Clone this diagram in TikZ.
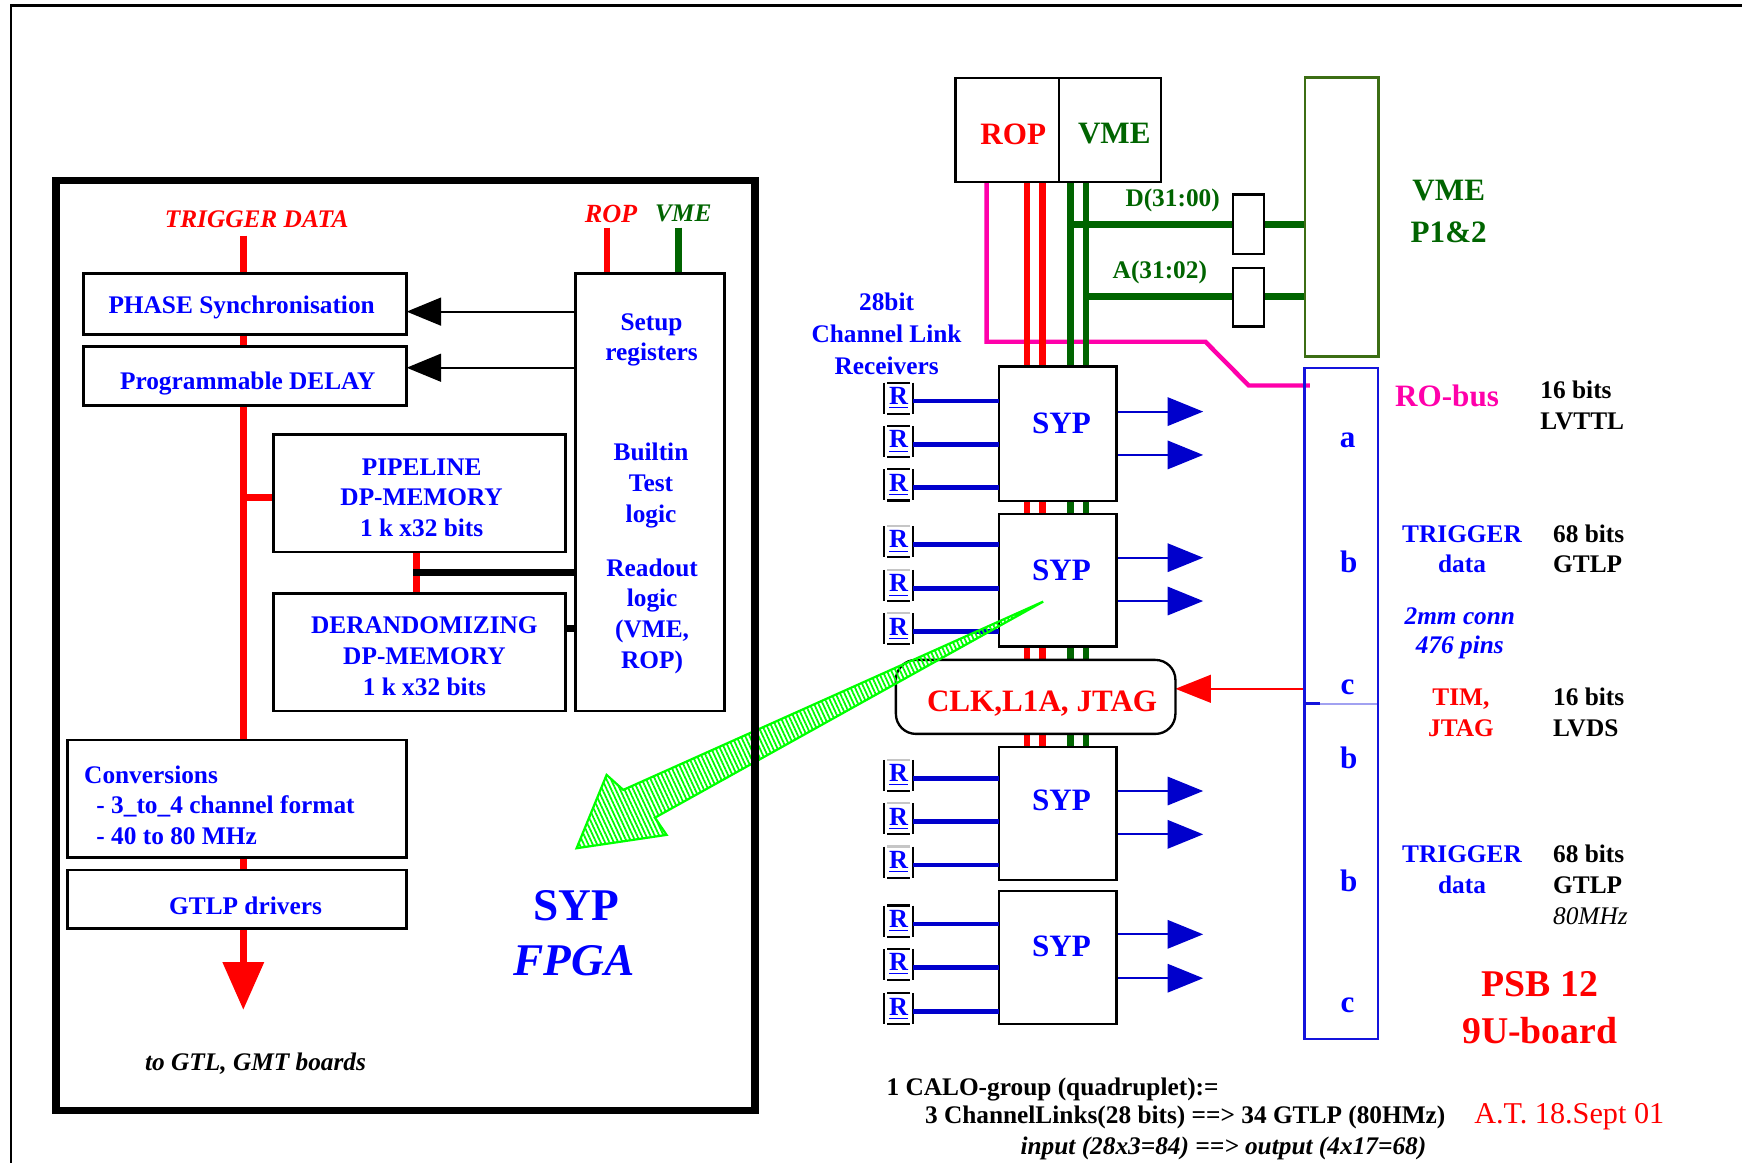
\documentclass[tikz,border=0pt]{standalone}
\usepackage{fontspec}
\setmainfont{Liberation Serif}
\usetikzlibrary{arrows.meta,patterns.meta,calc}
\definecolor{tblue}{RGB}{0,0,255}
\definecolor{lblue}{RGB}{0,0,204}
\definecolor{cblue}{RGB}{20,20,220}
\definecolor{tred}{RGB}{255,0,0}
\definecolor{dgreen}{RGB}{0,100,0}
\definecolor{olivetwo}{RGB}{60,110,20}
\definecolor{pinkm}{RGB}{255,0,170}
\definecolor{lgreen}{RGB}{0,255,0}
\pgfdeclarelayer{bg}
\pgfsetlayers{bg,main}
\newcommand\rrow[4]{%
  \node[rtext] (#1) at (808.75,#2-2.5) {\underline{R}};
  \draw[line width=1pt] (#1.north west) -- (#1.south west);
  \draw[line width=1pt] (#1.north east) -- (#1.south east);
  \draw[line width=1pt,#3] ($(#1.north west)+(2.8,0)$) -- ($(#1.north east)+(-2.8,0)$);
  \draw[line width=1pt] ($(#1.south west)+(2.8,0)$) -- ($(#1.south east)+(-2.8,0)$);
  \draw[rlink] (#1.east |- 0,#2) -- (#4.west |- 0,#2);
}
\newcommand\oarrow[3]{%
  \coordinate (#3) at (1083,#2);
  \draw[oarr] (#1.east |- 0,#2) -- (#3);
}
\begin{document}
\begin{tikzpicture}[x=0.5pt,y=-0.5pt,
  every node/.style={inner sep=0pt,outer sep=0pt},
  bx/.style={draw=black,line width=1.2pt,fill=white},
  sbx/.style={draw=black,line width=1.05pt,fill=white},
  ft/.style 2 args={font=\fontsize{#1pt}{#2pt}\selectfont\bfseries,yshift=-1pt},
  fti/.style 2 args={font=\fontsize{#1pt}{#2pt}\selectfont\bfseries\itshape,yshift=-1pt},
  rbus/.style={draw=tred,line width=3pt},
  gbus/.style={draw=dgreen,line width=3pt},
  kbus/.style={draw=black,line width=3pt},
  pbus/.style={draw=pinkm,line width=2pt},
  karr/.style={draw=black,line width=1pt,-{Triangle[length=15.5pt,width=12.5pt]}},
  oarr/.style={draw=lblue,line width=1pt,-{Triangle[length=16pt,width=12.75pt]}},
  rlink/.style={draw=lblue,line width=2.1pt},
  rtext/.style={font=\fontsize{11.8pt}{13pt}\selectfont\bfseries,text=tblue,minimum width=13pt,minimum height=14pt},
]
\useasboundingbox (0,0) rectangle (1568,1047);
% outer frame
\coordinate (fr1) at (10,5);
\coordinate (fr2) at (1568,5);
\coordinate (fr3) at (10,1047);
\draw[line width=1pt] (fr2) -- (fr1) -- (fr3);

% ---------- left: SYP FPGA ----------
\node[bx,minimum width=145.5pt,minimum height=27.5pt] (phase) at (220.5,273.5) {};
\node[bx,minimum width=145.5pt,minimum height=26.5pt] (delay) at (220.5,338.5) {};
\node[bx,minimum width=67pt,minimum height=197pt] (setup) at (585,443) {};
\node[bx,minimum width=131.5pt,minimum height=53pt] (pipe) at (377.5,444) {};
\node[bx,minimum width=131.5pt,minimum height=53pt] (derand) at (377.5,587) {};
\node[bx,minimum width=152.5pt,minimum height=53pt] (conv) at (213.5,719) {};
\node[bx,minimum width=152.5pt,minimum height=26.5pt] (gtlp) at (213.5,809.5) {};

\node[fti={11.4}{13},text=tred] (tdl) at (231,195) {TRIGGER DATA};
\node[fti={11.8}{13},text=tred] (ropl) at (550,190.5) {ROP};
\node[fti={11.4}{13},text=dgreen] (vmel) at (615,190.5) {VME};
\node[ft={11.4}{13},text=tblue] (phaset) at (217.5,275) {PHASE Synchronisation};
\node[ft={11.4}{13},text=tblue] (delayt) at (223,343) {Programmable DELAY};
\node[ft={11.4}{13.5},text=tblue,align=center] (setupt1) at (586.5,304) {Setup\\registers};
\node[ft={11.4}{14},text=tblue,align=center] (setupt2) at (586,435) {Builtin\\Test\\logic};
\node[ft={11.4}{13.8},text=tblue,align=center] (setupt3) at (587,552.5) {Readout\\logic\\(VME,\\ROP)};
\node[ft={11.4}{13.75},text=tblue,align=center] (pipet) at (379.5,446) {PIPELINE\\DP-MEMORY\\1 k x32 bits};
\node[ft={11.4}{14},text=tblue,align=center] (dert) at (382,589) {DERANDOMIZING\\DP-MEMORY\\1 k x32 bits};
\node[ft={11.4}{13.75},text=tblue,align=left,anchor=west] (convt) at (75.8,722.5) {Conversions\\\hspace*{5.5pt}- 3\_to\_4 channel format\\\hspace*{5.5pt}- 40 to 80 MHz};
\node[ft={11.4}{13},text=tblue] (gtlpt) at (221,813) {GTLP drivers};
\node[fti={11.4}{13},text=black] (togt) at (230,955) {to GTL, GMT boards};
\node[ft={20.4}{24},text=tblue] (sypb) at (518.5,813.6) {SYP};
\node[fti={20.4}{24},text=tblue] (fpgat) at (516.6,863) {FPGA};

\coordinate (tdtop) at (219,212);
\coordinate (tdbr) at (219,448);
\coordinate (tdout) at (219,909);
\coordinate (ropl0) at (546.5,205);
\coordinate (vmel0) at (611,205);
\coordinate (kj) at (372,515.6);
\begin{pgfonlayer}{bg}
\draw[rbus] (tdtop) -- (tdtop |- phase.north);
\draw[rbus] (tdtop |- phase.south) -- (tdtop |- delay.north);
\draw[rbus] (tdtop |- delay.south) -- (tdtop |- conv.north);
\draw[rbus] (tdtop |- conv.south) -- (tdtop |- gtlp.north);
\draw[rbus,-{Triangle[length=21.5pt,width=18pt]}] (tdtop |- gtlp.south) -- (tdout);
\draw[rbus] (tdbr) -- (tdbr -| pipe.west);
\draw[rbus] (ropl0) -- (ropl0 |- setup.north);
\draw[gbus] (vmel0) -- (vmel0 |- setup.north);
\draw[karr] (setup.west |- 0,280.5) -- (phase.east |- 0,280.5);
\draw[karr] (setup.west |- 0,331) -- (delay.east |- 0,331);
\draw[rbus] (pipe.south -| 375,0) -- (derand.north -| 375,0);
\draw[kbus] (kj) -- (setup.west |- kj);
\draw[kbus] (derand.east |- 0,566) -- (setup.west |- 0,566);
\end{pgfonlayer}

% ---------- right: PSB board ----------
\node[sbx,minimum width=46.5pt,minimum height=47pt] (ropb) at (906.5,117) {};
\node[sbx,minimum width=46pt,minimum height=47pt] (vmeb) at (999,117) {};
\node[sbx,minimum width=13.75pt,minimum height=26.75pt] (db) at (1123.75,201.75) {};
\node[sbx,minimum width=13.75pt,minimum height=26.25pt] (ab) at (1123.75,267.75) {};
\node[draw=olivetwo,line width=1.2pt,fill=white,minimum width=33.25pt,minimum height=125.5pt] (p12) at (1207.75,195.5) {};
\node[draw=cblue,line width=1.1pt,minimum width=33.25pt,minimum height=302pt] (conn) at (1207.25,633) {};
\node[sbx,minimum width=53pt,minimum height=60.5pt] (syp1) at (952,390.5) {};
\node[sbx,minimum width=53pt,minimum height=59.7pt] (syp2) at (952,522.3) {};
\node[sbx,minimum width=53pt,minimum height=59.7pt] (syp3) at (952,732.3) {};
\node[sbx,minimum width=53pt,minimum height=59.8pt] (syp4) at (952,861.8) {};
\node[sbx,rounded corners=9pt,minimum width=125.8pt,minimum height=33.3pt] (clk) at (932.2,627.3) {};

\node[ft={14}{16},text=tred] (ropt) at (912,118.5) {ROP};
\node[ft={14}{16},text=dgreen] (vmet) at (1003,118.5) {VME};
\node[ft={11.4}{13},text=dgreen] (dlab) at (1055.5,178.5) {D(31:00)};
\node[ft={11.4}{13},text=dgreen] (alab) at (1044,243.6) {A(31:02)};
\node[ft={14}{19},text=dgreen,align=center] (vmep) at (1304,188) {VME\\P1\&2};
\node[ft={11.4}{14.2},text=tblue,align=center] (rect) at (798,298.5) {28bit\\Channel Link\\Receivers};
\node[ft={14}{16},text=tblue] (s1t) at (955.5,379.5) {SYP};
\node[ft={14}{16},text=tblue] (s2t) at (955.5,511.5) {SYP};
\node[ft={14}{16},text=tblue] (s3t) at (955.5,718.5) {SYP};
\node[ft={14}{16},text=tblue] (s4t) at (955.5,849.6) {SYP};
\node[ft={14}{16},text=tred] (clkt) at (938,631.5) {CLK,L1A, JTAG};

\node[ft={14}{16},text=tblue] (la) at (1213,394.5) {a};
\node[ft={14}{16},text=tblue] (lb1) at (1214,504) {b};
\node[ft={14}{16},text=tblue] (lc1) at (1213,616.5) {c};
\node[ft={14}{16},text=tblue] (lb2) at (1214,680) {b};
\node[ft={14}{16},text=tblue] (lb3) at (1214,791) {b};
\node[ft={14}{16},text=tblue] (lc2) at (1213,903) {c};

\node[ft={14}{16},text=pinkm] (robus) at (1302.5,354) {RO-bus};
\node[ft={11.4}{13.75},anchor=west,align=left] (lvttl) at (1386.6,362.75) {16 bits\\LVTTL};
\node[ft={11.4}{13.5},text=tblue,align=center] (trig1) at (1316,492) {TRIGGER\\data};
\node[ft={11.4}{13.5},anchor=west,align=left] (gtlp1) at (1398,492) {68 bits\\GTLP};
\node[fti={11.4}{13.2},text=tblue,align=center] (mmconn) at (1314,568) {2mm conn\\476 pins};
\node[ft={11.4}{14},text=tred,align=center] (timj) at (1315,639.5) {TIM,\\JTAG};
\node[ft={11.4}{14},anchor=west,align=left] (lvds) at (1398,639.5) {16 bits\\LVDS};
\node[ft={11.4}{13.9},text=tblue,align=center] (trig2) at (1316,780.5) {TRIGGER\\data};
\node[ft={11.4}{13.9},anchor=west,align=left] (gtlp2) at (1398,794.2) {68 bits\\GTLP\\{\mdseries\itshape 80MHz}};
\node[ft={17}{21.25},text=tred,align=center] (psb) at (1386,905) {PSB 12\\9U-board};

\node[ft={11.4}{13},anchor=west] (calo1) at (798,978.6) {1 CALO-group (quadruplet):=};
\node[ft={11.4}{13},anchor=west] (calo2) at (832.6,1003.5) {3 ChannelLinks(28 bits) ==> 34 GTLP (80HMz)};
\node[fti={11.4}{13},anchor=west] (calo3) at (918.6,1031.4) {input (28x3=84) ==> output (4x17=68)};
\node[font=\fontsize{13.6pt}{16pt}\selectfont,text=tred,anchor=west,yshift=-1pt] (atdate) at (1327,1003.5) {A.T. 18.Sept 01};

% receivers and outputs
\rrow{r1}{361}{black}{syp1}
\rrow{r2}{400}{black}{syp1}
\rrow{r3}{439}{black}{syp1}
\rrow{r4}{490}{gray!45}{syp2}
\rrow{r5}{529.5}{gray!45}{syp2}
\rrow{r6}{568.5}{gray!45}{syp2}
\rrow{r7}{700.5}{gray!45}{syp3}
\rrow{r8}{739.5}{gray!45}{syp3}
\rrow{r9}{778.5}{gray!45}{syp3}
\rrow{r10}{831.6}{black}{syp4}
\rrow{r11}{870.6}{black}{syp4}
\rrow{r12}{910.5}{black}{syp4}

\begin{pgfonlayer}{bg}
\coordinate (pm0) at (888,164);
\coordinate (pm1) at (888,307.6);
\coordinate (pm2) at (1085,307.6);
\coordinate (pm3) at (1124,347);
\draw[pbus] (ropb.south -| pm0) -- (pm1) -- (pm2) -- (pm3) -- ($(conn.west |- pm3)+(5,0)$);
\draw[rbus] (ropb.south -| 924.5,0) -- (syp3.north -| 924.5,0);
\draw[rbus] (ropb.south -| 938.5,0) -- (syp3.north -| 938.5,0);
\draw[gbus] (vmeb.south -| 963.8,0) -- (syp3.north -| 963.8,0);
\draw[gbus] (vmeb.south -| 977.6,0) -- (syp3.north -| 977.6,0);
\coordinate (dj) at (963.8,202);
\coordinate (aj) at (977.6,267);
\draw[gbus] (dj) -- (p12.west |- dj);
\draw[gbus] (aj) -- (p12.west |- aj);
\draw[draw=tred,line width=1pt,-{Triangle[length=16pt,width=12.5pt]}] (conn.west |- 0,620) -- (clk.east |- 0,620);
\draw[draw=cblue!40,line width=0.8pt] (conn.west |- 0,633.6) -- (conn.east |- 0,633.6);
\draw[draw=cblue,line width=1.3pt] (conn.west |- 0,633.6) -- ++(14,0);
\oarrow{syp1}{370.5}{o1}
\oarrow{syp1}{409.5}{o2}
\oarrow{syp2}{502}{o3}
\oarrow{syp2}{541}{o4}
\oarrow{syp3}{712}{o5}
\oarrow{syp3}{751}{o6}
\oarrow{syp4}{841}{o7}
\oarrow{syp4}{880.5}{o8}
\end{pgfonlayer}

% green zoom arrow
\coordinate (ga0) at (939,541.5);
\coordinate (ga1) at (561,711);
\coordinate (ga2) at (546,697.5);
\coordinate (ga3) at (519,763.5);
\coordinate (ga4) at (600,751.5);
\coordinate (ga5) at (589.5,736);
\draw[draw=lgreen,line width=1pt,pattern={Lines[angle=115,distance=1.8pt,line width=0.8pt]},pattern color=lgreen]
  (ga0) -- (ga1) -- (ga2) -- (ga3) -- (ga4) -- (ga5) -- cycle;

% thick FPGA frame
\node[draw=black,line width=3.25pt,minimum width=314.5pt,minimum height=418.5pt] (fpgabox) at (365,581) {};
\end{tikzpicture}
\end{document}
